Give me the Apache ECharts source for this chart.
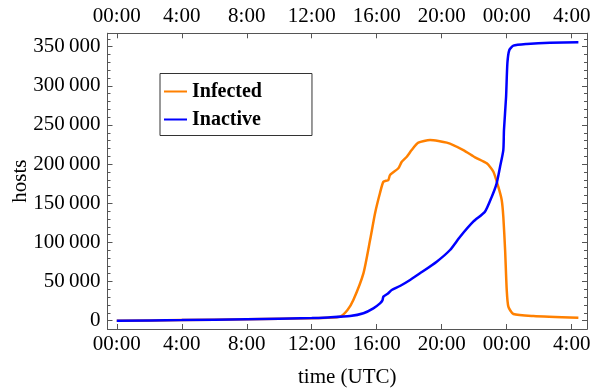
<!DOCTYPE html>
<html>
<head>
<meta charset="utf-8">
<script src="https://cdn.jsdelivr.net/npm/echarts@6/dist/echarts.min.js"></script>
<style>
  html, body { margin: 0; padding: 0; background: #fff; }
  #main { width: 593px; height: 390px; }
</style>
</head>
<body>
<div id="main"></div>
<script>
// time in hours since 00:00 UTC, hosts counts
const infectedTime = [0, 4, 8, 12, 13, 13.74, 14.2, 14.56, 15.18, 15.59, 15.9, 16.2, 16.41, 16.71, 16.82, 17.33, 17.54, 17.85, 18.15, 18.56, 19.28, 20.31, 21.33, 22.05, 22.77, 23.18, 23.48, 23.69, 23.79, 23.9, 24.0, 24.1, 24.41, 25.64, 28.41];
const infectedHosts = [0, 800, 1800, 3200, 3800, 5100, 13700, 26400, 60500, 103000, 137600, 163100, 177500, 179700, 186100, 194700, 203100, 209500, 218000, 227400, 230800, 227400, 218000, 208700, 201000, 190300, 171200, 154200, 132800, 90300, 39200, 17900, 8600, 6000, 3800];

const inactiveTime = [0, 4, 8, 12, 13, 14.36, 15.18, 15.79, 16.2, 16.35, 16.41, 16.71, 16.92, 17.43, 18.05, 18.66, 19.69, 20.51, 21.13, 21.94, 22.66, 23.08, 23.38, 23.59, 23.79, 23.83, 23.96, 24.04, 24.16, 24.41, 25.23, 26.66, 28.41];
const inactiveHosts = [0, 800, 1900, 3300, 4200, 6000, 9500, 15800, 22200, 26000, 30700, 35000, 39200, 44300, 52000, 60500, 75400, 90300, 107300, 126500, 139200, 158400, 175500, 196700, 218000, 243600, 286100, 328800, 345800, 351300, 353400, 355100, 355600];

const xTicks = [0, 4, 8, 12, 16, 20, 24, 28];
const yTicks = [0, 50000, 100000, 150000, 200000, 250000, 300000, 350000];
const yMinorTicks = [];
for (let v = 0; v <= 360000; v += 10000) yMinorTicks.push(v);

const seriesNames = ['Infected', 'Inactive'];
const seriesColors = ['#ff8000', '#0000ff'];

const frameColor = '#555';
const font = 'Liberation Serif';

function pairs(xs, ys) {
  return xs.map((x, i) => [x, ys[i]]);
}

function timeLabel(v) {
  const h = Math.round(v) % 24;
  return h === 0 ? '00:00' : h + ':00';
}

function hostLabel(v) {
  if (v === 0) return '0';
  return Math.round(v / 1000) + '\u2009000';
}

let xRange = { min: -0.57, max: 28.94 };
let yRange = { min: -10600, max: 367100 };

function xAxisOf(pos, showLabel) {
  return {
    type: 'value',
    position: pos,
    min: xRange.min,
    max: xRange.max,
    splitLine: { show: false },
    axisLine: { show: true, onZero: false, lineStyle: { color: frameColor, width: 1 } },
    axisTick: { show: true, inside: true, length: 5, customValues: xTicks, lineStyle: { color: frameColor } },
    axisLabel: {
      show: showLabel, customValues: xTicks, formatter: timeLabel,
      color: '#000', fontFamily: font, fontSize: 21, margin: pos === 'top' ? 6 : 5
    }
  };
}

function yAxisOf(pos, ticks, len, showLabel) {
  return {
    type: 'value',
    position: pos,
    min: yRange.min,
    max: yRange.max,
    splitLine: { show: false },
    axisLine: { show: true, onZero: false, lineStyle: { color: frameColor, width: 1 } },
    axisTick: { show: true, inside: true, length: len, customValues: ticks, lineStyle: { color: frameColor } },
    axisLabel: {
      show: showLabel, customValues: ticks, formatter: hostLabel,
      color: '#000', fontFamily: font, fontSize: 21, margin: 7
    }
  };
}

let myChart = echarts.init(document.getElementById('main'), null, { renderer: 'canvas' });

let xBottom = xAxisOf('bottom', true);
xBottom.name = 'time (UTC)';
xBottom.nameLocation = 'middle';
xBottom.nameGap = 38;
xBottom.nameTextStyle = { color: '#000', fontFamily: font, fontSize: 21 };

let yLeft = yAxisOf('left', yTicks, 5, true);
yLeft.name = 'hosts';
yLeft.nameLocation = 'middle';
yLeft.nameGap = 77;
yLeft.nameMoveOverlap = false;
yLeft.nameTextStyle = { color: '#000', fontFamily: font, fontSize: 21 };

let option = {
  animation: false,
  grid: { left: 107.5, right: 6, top: 33.3, bottom: 61, containLabel: false, outerBoundsMode: 'none' },
  legend: {
    orient: 'vertical',
    left: 160,
    top: 73.5,
    data: seriesNames,
    icon: 'rect',
    itemWidth: 23,
    itemHeight: 2,
    itemGap: 8,
    padding: [8, 50, 6, 4],
    borderColor: '#333',
    borderWidth: 1,
    textStyle: { color: '#000', fontFamily: font, fontSize: 20, fontWeight: 'bold', lineHeight: 20 }
  },
  xAxis: [xBottom, xAxisOf('top', true)],
  yAxis: [
    yLeft,
    yAxisOf('right', yTicks, 5, false),
    yAxisOf('left', yMinorTicks, 3, false),
    yAxisOf('right', yMinorTicks, 3, false)
  ],
  series: [
    {
      name: seriesNames[0],
      type: 'line',
      xAxisIndex: 0,
      yAxisIndex: 0,
      showSymbol: false,
      smooth: 0.2,
      color: seriesColors[0],
      lineStyle: { width: 2.5, color: seriesColors[0] },
      data: pairs(infectedTime, infectedHosts)
    },
    {
      name: seriesNames[1],
      type: 'line',
      xAxisIndex: 0,
      yAxisIndex: 0,
      showSymbol: false,
      smooth: 0.2,
      color: seriesColors[1],
      lineStyle: { width: 2.5, color: seriesColors[1] },
      data: pairs(inactiveTime, inactiveHosts)
    }
  ]
};

myChart.setOption(option);
</script>
</body>
</html>
